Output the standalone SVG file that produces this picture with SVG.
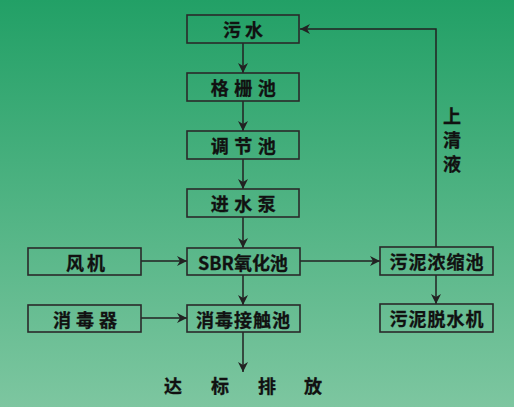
<svg xmlns="http://www.w3.org/2000/svg" width="514" height="407" viewBox="0 0 514 407">
<defs>
<linearGradient id="bg" x1="0" y1="0" x2="0" y2="1">
<stop offset="0" stop-color="#22a066"/>
<stop offset="1" stop-color="#7dc6a0"/>
</linearGradient>
<marker id="ah" viewBox="0 0 10 10" refX="10" refY="5" markerWidth="10" markerHeight="10" markerUnits="userSpaceOnUse" orient="auto">
<path d="M0,0 L10,5 L0,10 L3,5 Z" fill="#222"/>
</marker>
<style>
.box{fill:none;stroke:#2a2a2a;stroke-width:1.6}
.t{font-family:"Noto Sans CJK SC","Liberation Sans",sans-serif;font-weight:bold;font-size:18px;fill:#111;text-anchor:middle;dominant-baseline:central;stroke:#111;stroke-width:0.3}
.c{stroke:#222;stroke-width:1.5;fill:none;marker-end:url(#ah)}
</style>
</defs>
<rect width="514" height="407" fill="url(#bg)"/>
<g id="connectors">
<line class="c" x1="243" y1="43" x2="243" y2="73"/>
<line class="c" x1="243" y1="101" x2="243" y2="131"/>
<line class="c" x1="243" y1="159" x2="243" y2="189"/>
<line class="c" x1="243" y1="217" x2="243" y2="248"/>
<line class="c" x1="243" y1="275" x2="243" y2="305"/>
<line class="c" x1="243" y1="332" x2="243" y2="372"/>
<line class="c" x1="141" y1="261" x2="187" y2="261"/>
<line class="c" x1="141" y1="318" x2="187" y2="318"/>
<line class="c" x1="300" y1="261" x2="380" y2="261"/>
<line class="c" x1="436" y1="275" x2="436" y2="304"/>
<polyline class="c" points="436,247 436,29 300,29"/>
</g>
<g id="n-wushui"><rect class="box" x="187" y="15" width="112" height="28"/><text class="t" x="245" y="29" letter-spacing="4">污水</text></g>
<g id="n-geshan"><rect class="box" x="187" y="73" width="112" height="28"/><text class="t" x="246" y="87" letter-spacing="5.5">格栅池</text></g>
<g id="n-tiaojie"><rect class="box" x="187" y="131" width="112" height="28"/><text class="t" x="246" y="145" letter-spacing="5.5">调节池</text></g>
<g id="n-jinshui"><rect class="box" x="187" y="189" width="112" height="28"/><text class="t" x="246" y="203" letter-spacing="5.5">进水泵</text></g>
<g id="n-sbr"><rect class="box" x="187" y="248" width="113" height="27"/><text class="t" x="243" y="261.5">SBR氧化池</text></g>
<g id="n-xiaodu"><rect class="box" x="187" y="305" width="113" height="27"/><text class="t" x="243.5" y="318.5" letter-spacing="1">消毒接触池</text></g>
<g id="n-fengji"><rect class="box" x="28" y="248" width="113" height="27"/><text class="t" x="87" y="261.5" letter-spacing="3">风机</text></g>
<g id="n-xiaoduqi"><rect class="box" x="28" y="305" width="113" height="27"/><text class="t" x="87.5" y="318.5" letter-spacing="5">消毒器</text></g>
<g id="n-nongsuo"><rect class="box" x="380" y="247" width="113" height="28"/><text class="t" x="437" y="261" letter-spacing="1">污泥浓缩池</text></g>
<g id="n-tuoshui"><rect class="box" x="380" y="304" width="113" height="28"/><text class="t" x="437" y="318" letter-spacing="1">污泥脱水机</text></g>
<g id="labels">
<text class="t" x="452" y="115">上</text>
<text class="t" x="452" y="139">清</text>
<text class="t" x="452" y="163">液</text>
<text class="t" x="173" y="385">达</text>
<text class="t" x="220" y="385">标</text>
<text class="t" x="267" y="385">排</text>
<text class="t" x="313" y="385">放</text>
</g>
</svg>
